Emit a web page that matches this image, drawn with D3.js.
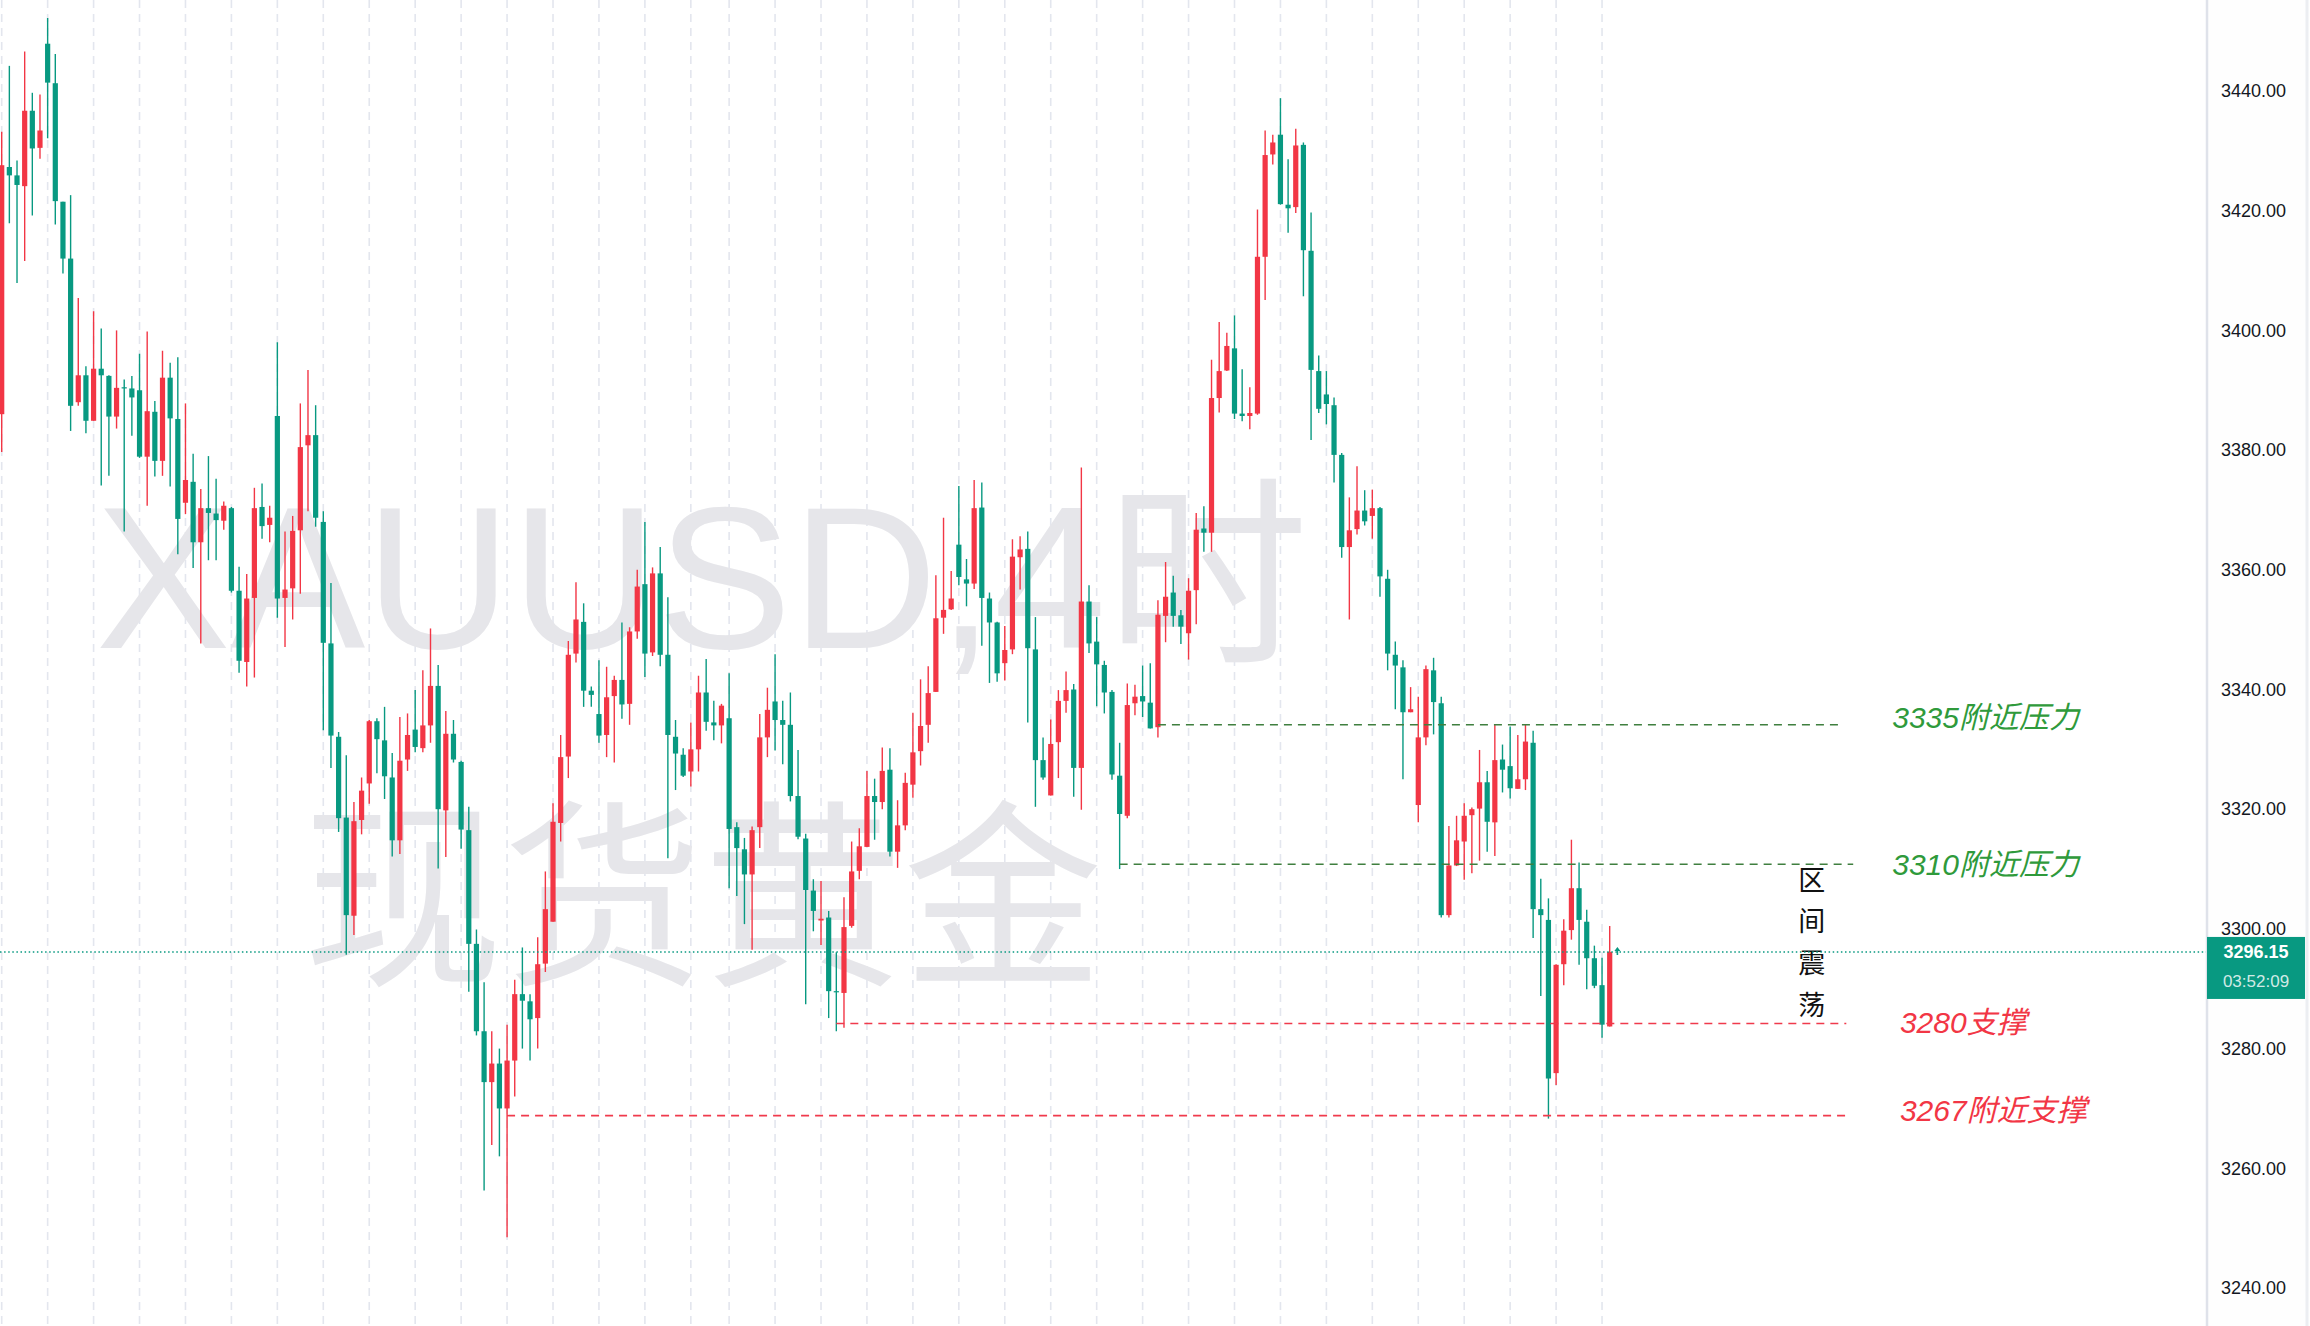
<!DOCTYPE html>
<html><head><meta charset="utf-8">
<script src="https://cdn.jsdelivr.net/npm/d3@7"></script>
<style>html,body{margin:0;padding:0;background:#fff;overflow:hidden}</style>
</head><body><svg id="chart" width="2310" height="1326"></svg>
<script>
// ---- data (4h candles, index 0..210) ----
const opens = [3386.0,3427.3,3425.9,3424.1,3436.7,3430.5,3447.9,3441.3,3421.5,3412.0,
3388.0,3392.5,3384.9,3393.6,3392.4,3385.6,3390.5,3390.3,3390.0,3378.9,
3386.4,3378.2,3392.1,3385.2,3371.2,3374.7,3364.6,3370.3,3369.4,3368.2,
3370.3,3356.5,3344.6,3355.3,3370.5,3367.5,3385.7,3355.3,3356.9,3366.6,
3380.8,3382.5,3368.0,3347.7,3332.1,3318.6,3302.2,3318.2,3324.3,3334.7,
3331.5,3325.3,3314.8,3328.3,3333.3,3330.2,3334.0,3340.6,3319.8,3332.6,
3327.9,3316.5,3297.5,3282.9,3274.4,3277.5,3270.0,3278.0,3289.1,3287.9,
3285.1,3294.2,3301.2,3317.7,3328.8,3346.0,3351.3,3339.8,3335.9,3332.4,
3338.9,3341.6,3337.6,3349.7,3357.6,3346.2,3359.4,3345.8,3332.1,3329.1,
3326.3,3330.0,3339.5,3334.5,3334.0,3335.2,3317.0,3313.3,3309.1,3317.0,
3332.0,3338.0,3334.9,3334.1,3322.2,3315.1,3306.4,3301.4,3301.9,3289.6,
3289.3,3300.5,3309.7,3313.7,3322.2,3321.2,3326.6,3312.9,3317.3,3324.1,
3329.7,3334.1,3339.6,3352.0,3353.4,3364.2,3358.4,3357.7,3370.4,3355.2,
3351.2,3344.4,3346.7,3362.1,3363.5,3346.7,3328.2,3322.3,3331.2,3338.1,
3340.0,3326.9,3354.7,3348.0,3344.1,3339.6,3325.6,3318.9,3337.7,3338.9,
3337.8,3333.7,3352.3,3356.2,3352.4,3349.4,3356.6,3366.9,3366.2,3388.7,
3393.3,3397.0,3386.1,3385.7,3386.1,3412.3,3429.4,3432.7,3421.0,3420.6,
3431.0,3413.3,3393.2,3389.3,3387.5,3379.2,3363.8,3366.8,3369.9,3369.0,
3370.3,3358.5,3345.8,3343.7,3336.2,3320.7,3332.0,3343.2,3337.7,3302.3,
3310.6,3314.6,3319.0,3320.1,3324.5,3317.8,3328.3,3327.2,3323.4,3325.0,
3331.1,3303.3,3301.5,3275.9,3294.1,3299.8,3306.8,3301.2,3295.1,3290.6,
3283.7];
const highs = [3433.2,3444.2,3428.4,3446.6,3439.7,3439.4,3452.2,3446.2,3421.5,3422.6,
3405.4,3394.0,3403.2,3400.3,3392.5,3400.0,3391.8,3392.4,3396.1,3399.8,
3388.2,3396.6,3394.6,3395.5,3387.8,3379.4,3373.5,3379.0,3375.2,3371.4,
3370.5,3360.5,3359.3,3373.7,3374.4,3370.7,3398.0,3366.4,3369.0,3387.8,
3393.4,3387.5,3369.8,3357.8,3332.9,3329.0,3321.2,3325.3,3334.9,3335.2,
3337.1,3329.4,3335.4,3336.0,3339.9,3343.2,3350.2,3344.1,3336.4,3334.9,
3328.1,3320.4,3299.9,3291.1,3282.9,3280.0,3284.0,3291.5,3296.9,3289.1,
3298.6,3309.6,3321.0,3332.4,3348.1,3357.9,3354.4,3340.5,3344.9,3343.8,
3342.3,3351.2,3350.4,3360.0,3368.0,3360.4,3363.8,3355.4,3334.9,3330.2,
3334.5,3342.3,3345.1,3338.1,3337.6,3342.7,3317.8,3315.2,3317.1,3335.9,
3340.3,3345.9,3338.1,3339.5,3329.9,3315.9,3308.3,3308.0,3303.0,3296.1,
3305.3,3314.6,3316.8,3326.4,3325.1,3330.3,3330.2,3321.5,3326.1,3336.1,
3341.7,3343.9,3359.1,3368.7,3359.8,3374.0,3361.8,3375.0,3374.6,3356.2,
3351.3,3350.6,3365.1,3365.6,3366.4,3352.1,3332.0,3335.0,3339.9,3343.0,
3340.9,3377.1,3357.4,3352.1,3344.8,3339.9,3331.1,3341.0,3340.8,3344.0,
3344.4,3354.9,3361.3,3359.0,3353.3,3358.6,3369.5,3370.6,3395.1,3401.4,
3399.6,3402.5,3393.5,3390.5,3420.2,3433.4,3432.7,3438.8,3428.6,3433.7,
3431.4,3419.7,3395.8,3393.2,3388.8,3379.5,3372.1,3377.3,3373.3,3373.4,
3370.5,3360.0,3348.0,3344.9,3340.4,3338.8,3344.0,3345.3,3338.8,3317.2,
3318.9,3321.0,3320.3,3329.9,3326.4,3334.1,3330.8,3333.8,3332.4,3334.1,
3333.1,3308.4,3305.1,3294.1,3301.6,3314.9,3311.1,3303.2,3297.2,3295.2,
3300.5];
const lows = [3379.7,3417.9,3407.9,3411.6,3419.2,3428.7,3432.1,3417.7,3409.5,3383.2,
3387.4,3382.8,3384.9,3374.1,3375.7,3383.6,3366.4,3382.4,3378.7,3370.7,
3375.6,3375.7,3373.9,3362.6,3369.3,3360.3,3347.7,3361.6,3361.6,3366.7,
3356.2,3342.8,3340.5,3342.0,3365.2,3364.6,3352.0,3347.1,3351.7,3356.0,
3369.8,3367.2,3333.2,3326.9,3316.2,3295.7,3299.0,3315.8,3320.9,3326.0,
3321.7,3312.1,3312.5,3326.4,3329.5,3329.5,3331.1,3310.1,3312.0,3327.8,
3313.4,3289.5,3282.2,3256.3,3263.9,3262.0,3248.5,3272.0,3280.0,3278.0,
3280.0,3292.8,3301.2,3314.6,3325.2,3344.5,3337.1,3337.1,3331.1,3328.7,
3327.8,3335.1,3334.1,3348.5,3342.1,3345.6,3343.9,3311.8,3323.2,3325.4,
3323.8,3326.3,3333.1,3331.5,3331.0,3306.8,3305.5,3300.8,3296.5,3313.5,
3328.7,3329.8,3327.5,3321.3,3315.0,3287.4,3299.6,3297.3,3285.1,3282.9,
3283.5,3300.2,3308.3,3313.7,3314.9,3320.0,3312.1,3310.2,3316.5,3321.9,
3327.3,3331.1,3339.6,3349.3,3353.3,3357.4,3353.9,3356.8,3347.3,3341.1,
3341.3,3341.5,3345.9,3356.7,3334.5,3320.4,3324.9,3322.3,3325.2,3336.1,
3322.1,3319.9,3346.1,3337.2,3336.0,3324.9,3310.0,3318.5,3335.7,3335.4,
3333.5,3332.0,3347.9,3350.5,3347.6,3345.0,3350.9,3363.0,3363.0,3386.3,
3393.2,3385.2,3384.8,3383.5,3385.9,3405.1,3427.7,3421.0,3416.3,3419.6,
3405.7,3381.7,3386.2,3384.3,3374.6,3362.0,3351.7,3365.9,3367.4,3365.2,
3355.5,3343.2,3336.7,3325.0,3336.2,3317.8,3330.7,3332.5,3301.9,3301.9,
3310.5,3308.2,3309.3,3311.4,3312.9,3312.2,3322.8,3321.8,3323.4,3323.2,
3298.5,3288.8,3268.3,3273.9,3290.6,3298.2,3294.0,3289.9,3290.1,3281.8,
3283.7];
const closes = [3427.6,3425.9,3424.3,3436.7,3430.4,3433.4,3441.4,3421.6,3412.0,3387.4,
3392.5,3384.9,3393.6,3392.5,3385.6,3390.4,3390.3,3388.8,3378.9,3386.5,
3378.2,3392.1,3385.3,3368.5,3375.0,3364.6,3370.3,3369.5,3368.3,3370.7,
3356.5,3344.8,3355.2,3370.3,3367.3,3368.7,3355.2,3356.7,3366.5,3380.5,
3382.5,3368.7,3347.8,3332.3,3318.5,3302.3,3318.0,3323.1,3334.7,3331.7,
3325.5,3314.8,3328.1,3332.4,3330.4,3334.0,3340.6,3320.0,3332.6,3328.3,
3316.6,3297.5,3282.9,3274.4,3277.5,3270.0,3278.0,3289.1,3288.0,3284.9,
3294.1,3303.3,3317.9,3328.7,3345.8,3351.7,3339.8,3339.1,3332.3,3338.7,
3341.6,3337.5,3349.7,3357.2,3346.0,3359.4,3345.8,3332.4,3329.3,3325.6,
3330.0,3339.5,3334.6,3334.0,3337.3,3316.7,3313.5,3309.1,3316.5,3332.0,
3336.6,3334.9,3334.1,3322.2,3315.4,3306.5,3303.0,3301.7,3289.6,3289.4,
3300.3,3309.6,3313.8,3322.2,3321.2,3326.4,3312.9,3317.3,3324.4,3329.5,
3333.9,3339.4,3351.9,3353.3,3355.2,3358.8,3357.7,3370.3,3355.3,3351.2,
3342.7,3346.6,3362.2,3363.4,3346.9,3328.2,3325.3,3330.9,3338.1,3339.9,
3326.9,3354.7,3347.7,3344.2,3339.5,3325.8,3319.2,3337.4,3338.8,3338.0,
3333.5,3352.5,3355.5,3352.3,3350.5,3356.5,3366.7,3366.2,3388.7,3393.2,
3397.4,3386.1,3385.7,3386.2,3412.3,3429.3,3431.4,3421.1,3420.4,3430.9,
3413.4,3393.4,3386.9,3387.7,3379.2,3363.8,3366.6,3369.9,3368.1,3370.3,
3358.9,3346.0,3344.0,3336.2,3336.7,3332.0,3343.4,3337.9,3302.3,3310.6,
3314.8,3318.9,3320.0,3324.5,3317.9,3328.2,3326.6,3323.5,3325.0,3331.3,
3303.3,3302.3,3275.0,3294.0,3299.7,3306.8,3301.5,3295.1,3290.5,3284.0,
3296.15];

const yTicks = [3240,3260,3280,3300,3320,3340,3360,3380,3400,3420,3440];
const lastPrice = 3296.15;
const countdown = "03:52:09";
const watermarkLines = ["XAUUSD,4时", "现货黄金"];
const levelNames  = ["3335附近压力", "3310附近压力", "3280支撑", "3267附近支撑"];
const levelPrices = [3334.1, 3310.8, 3284.2, 3268.8];
const levelLabelPrices = [3335.3, 3310.8, 3284.4, 3269.7];
const levelStart  = [151, 146, 109, 66];
const levelEnd    = [240.2, 241.8, 240.9, 240.9];
const levelLabelAt = [246.9, 246.9, 247.9, 247.9];
const levelKinds  = ["resist", "resist", "support", "support"];
const rangeLabel = "区间震荡";
// day separators (candle index), one short day at 90..95
const gridIdx = d3.range(0, 91, 6).concat(d3.range(95, 210, 6));

// ---- drawing ----
const W = 2310, H = 1326, axisX = 2207;
const UP = "#f23645", DOWN = "#089981";
const svg = d3.select("#chart");
const x = d3.scaleLinear().domain([0, 210]).range([1.7, 1609.7]);
const y = d3.scaleLinear().domain([3240, 3440]).range([1288, 91]);

svg.append("rect").attr("width", W).attr("height", H).attr("fill", "#ffffff");

// grid
svg.append("g").selectAll("line").data(gridIdx).join("line")
  .attr("x1", d => x(d)).attr("x2", d => x(d)).attr("y1", 0).attr("y2", H)
  .attr("stroke", "#e3e6ee").attr("stroke-width", 1.6).attr("stroke-dasharray", "8,6");

// watermark
const wm = svg.append("g").attr("fill", "#e6e6ea").attr("text-anchor", "middle")
  .style("font-family", "'Liberation Sans','Noto Sans CJK SC',sans-serif");
wm.append("text").attr("x", 702).attr("y", 648).attr("font-size", 202).text(watermarkLines[0]);
wm.append("text").attr("x", 703).attr("y", 970).attr("font-size", 200)
  .style("font-family", "'Noto Sans CJK SC',sans-serif").text(watermarkLines[1]);

// candles
const data = opens.map((o, i) => ({i, o, h: highs[i], l: lows[i], c: closes[i]}));
const cg = svg.append("g");
cg.selectAll("line").data(data).join("line")
  .attr("x1", d => x(d.i)).attr("x2", d => x(d.i))
  .attr("y1", d => y(d.h)).attr("y2", d => y(d.l))
  .attr("stroke", d => d.c >= d.o ? UP : DOWN).attr("stroke-width", 1.4);
cg.selectAll("rect").data(data).join("rect")
  .attr("x", d => x(d.i) - 2.6).attr("width", 5.2)
  .attr("y", d => y(Math.max(d.o, d.c)))
  .attr("height", d => Math.max(1.2, Math.abs(y(d.o) - y(d.c))))
  .attr("fill", d => d.c >= d.o ? UP : DOWN);

// level lines
const lv = levelNames.map((n, k) => ({n, p: levelPrices[k], lp: levelLabelPrices[k], s: levelStart[k],
  e: levelEnd[k], at: levelLabelAt[k], kind: levelKinds[k]}));
svg.append("g").selectAll("line").data(lv).join("line")
  .attr("x1", d => x(d.s)).attr("x2", d => x(d.e))
  .attr("y1", d => y(d.p)).attr("y2", d => y(d.p))
  .attr("stroke", d => d.kind === "resist" ? "#3f7f3f" : "#f03a4c")
  .attr("stroke-width", 1.6).attr("stroke-dasharray", "8,6");
svg.append("g").selectAll("text").data(lv).join("text")
  .attr("x", d => x(d.at)).attr("y", d => y(d.lp)).attr("dy", "0.36em")
  .attr("font-size", 30).attr("font-style", "italic")
  .style("font-family", "'Liberation Sans','Noto Sans CJK SC',sans-serif")
  .attr("fill", d => d.kind === "resist" ? "#2f9a3b" : "#f23645")
  .text(d => d.n);

// vertical range label
svg.append("g").selectAll("text").data(rangeLabel.split("")).join("text")
  .attr("x", x(236.4)).attr("y", (d, k) => 880 + k * 41.7).attr("dy", "0.36em")
  .attr("text-anchor", "middle").attr("font-size", 27).attr("fill", "#111")
  .style("font-family", "'Noto Sans CJK SC',sans-serif").text(d => d);

// last price line
svg.append("line").attr("x1", 0).attr("x2", axisX).attr("y1", y(lastPrice)).attr("y2", y(lastPrice))
  .attr("stroke", DOWN).attr("stroke-width", 1.5).attr("stroke-dasharray", "1.5,2.6");
// small marker after last candle
const mx = x(210) + 7.7, my = y(lastPrice);
svg.append("path").attr("d", `M${mx-3},${my-1} L${mx},${my-5} L${mx+3},${my-1} Z M${mx-0.8},${my-2} h1.6 v5 h-1.6 Z`)
  .attr("fill", DOWN);

// right axis
svg.append("rect").attr("x", axisX).attr("y", 0).attr("width", W - axisX).attr("height", H).attr("fill", "#fefefe");
svg.append("line").attr("x1", axisX).attr("x2", axisX).attr("y1", 0).attr("y2", H)
  .attr("stroke", "#dfe2ea").attr("stroke-width", 2.5);
svg.append("line").attr("x1", W - 3).attr("x2", W - 3).attr("y1", 0).attr("y2", H)
  .attr("stroke", "#eceef2").attr("stroke-width", 3);
const axis = d3.axisRight(y).tickValues(yTicks).tickSize(0).tickPadding(0).tickFormat(d3.format(".2f"));
const ag = svg.append("g").attr("transform", `translate(${axisX + 14},0)`).call(axis);
ag.select(".domain").remove();
ag.selectAll("text").attr("font-size", 18).attr("fill", "#131722")
  .style("font-family", "'Liberation Sans',Arial,sans-serif");

// last price box
const by = y(lastPrice);
svg.append("rect").attr("x", axisX).attr("y", by - 15).attr("width", 98).attr("height", 62).attr("fill", DOWN);
svg.append("text").attr("x", axisX + 49).attr("y", by).attr("dy", "0.36em").attr("text-anchor", "middle")
  .attr("font-size", 18).attr("fill", "#fff").attr("font-weight", 600)
  .style("font-family", "'Liberation Sans',Arial,sans-serif").text(d3.format(".2f")(lastPrice));
svg.append("text").attr("x", axisX + 49).attr("y", by + 29).attr("dy", "0.36em").attr("text-anchor", "middle")
  .attr("font-size", 17).attr("fill", "rgba(255,255,255,0.82)")
  .style("font-family", "'Liberation Sans',Arial,sans-serif").text(countdown);
</script></body></html>
